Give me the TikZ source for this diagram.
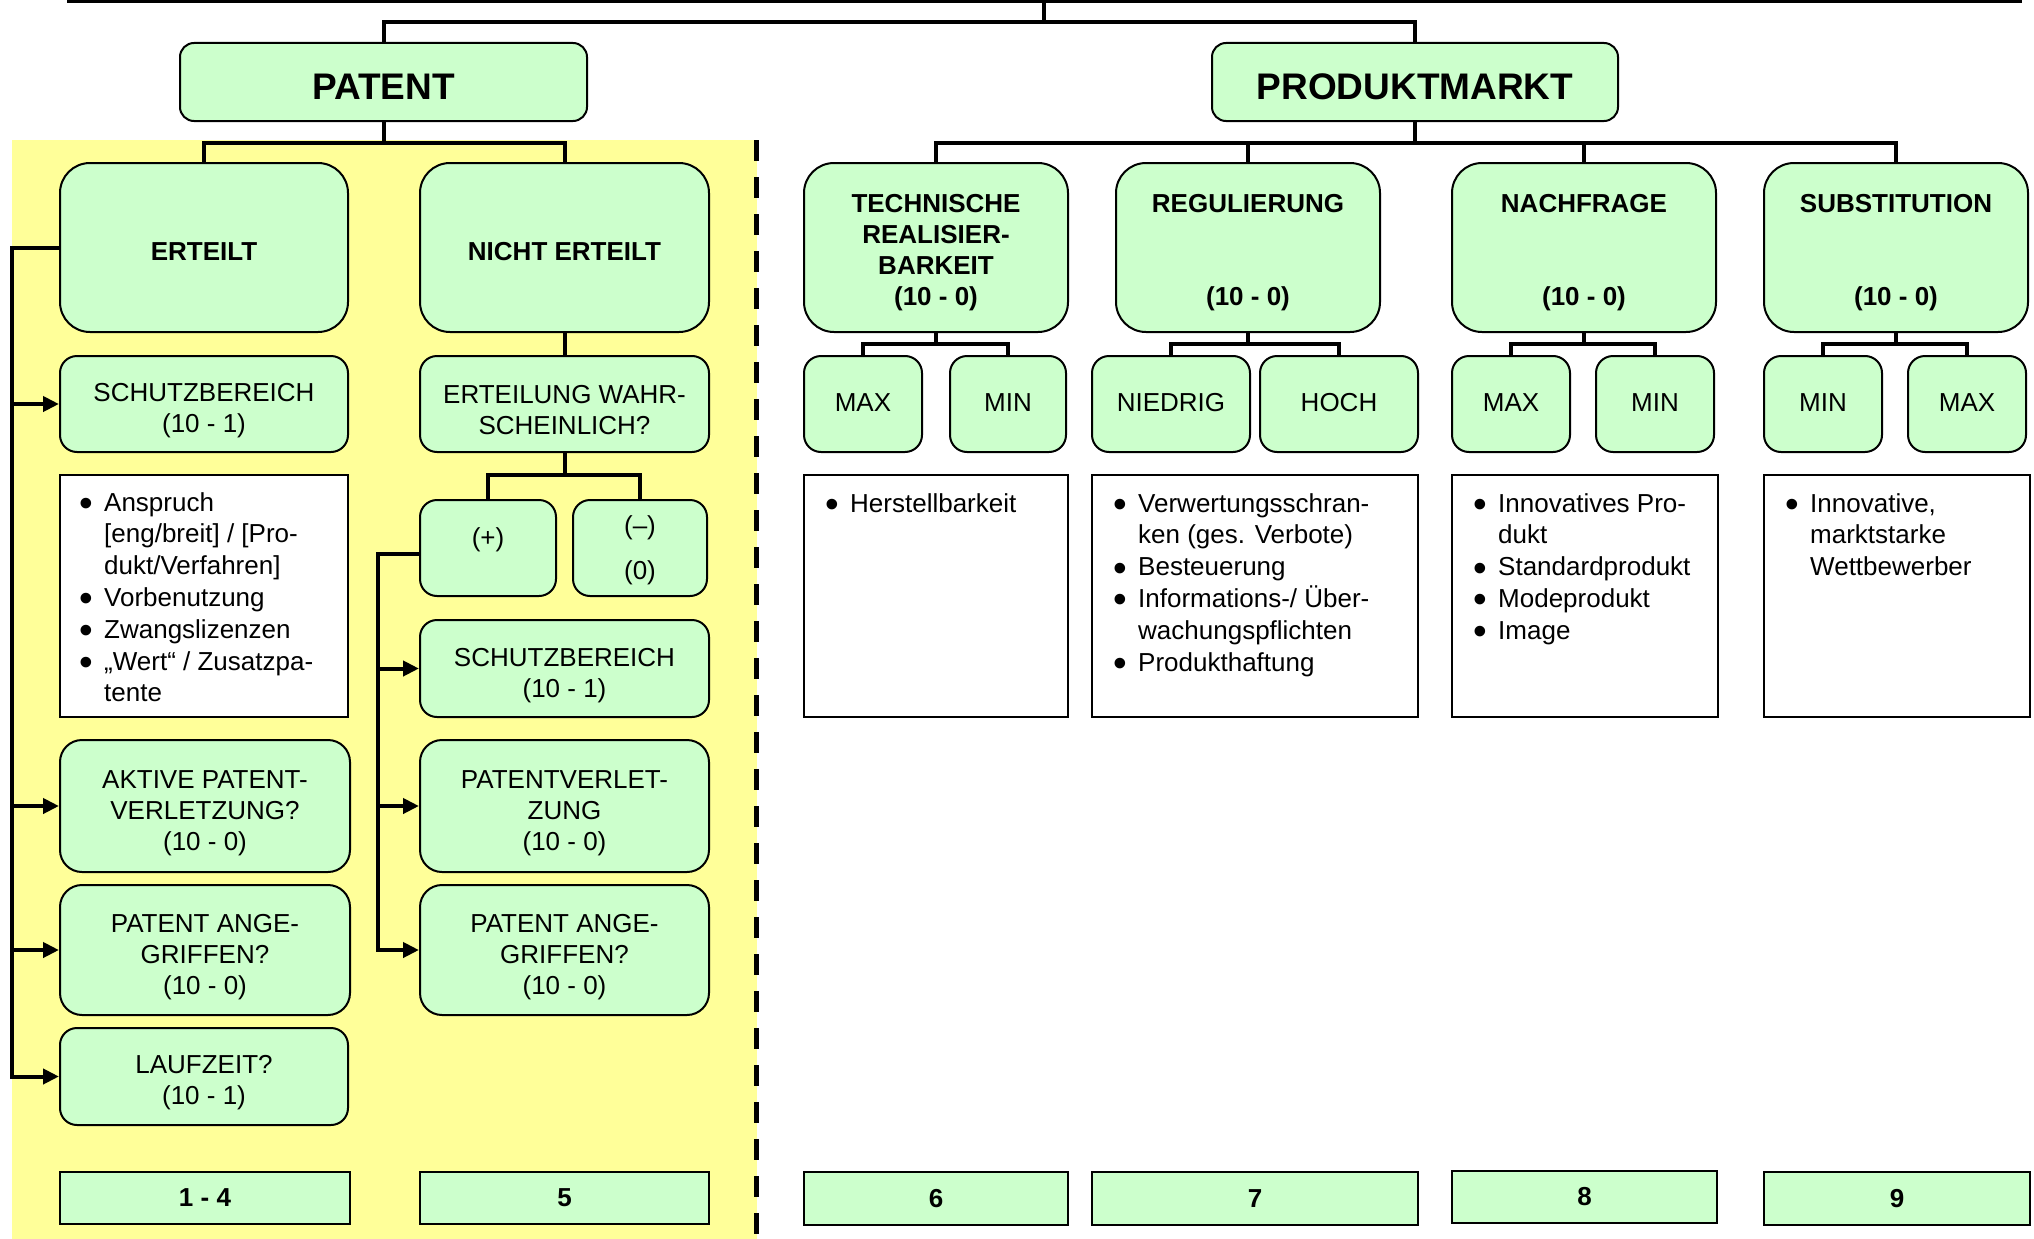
\documentclass[tikz,border=0pt]{standalone}
\usepackage{graphicx}
\usepackage{fontspec}
\setmainfont{Liberation Sans}
\usetikzlibrary{arrows.meta}
\definecolor{boxgreen}{HTML}{CCFFCC}
\definecolor{bgyellow}{HTML}{FFFF99}
\newcommand\txtf{\fontsize{26}{31}\selectfont}
\newcommand\bulf{\fontsize{26}{31.8}\selectfont}
\newcommand\ttlf{\fontsize{37}{44}\selectfont\bfseries}
\newcommand\bul{\llap{\raisebox{-5.5pt}{\scalebox{1.5}{\textbullet}}\hspace{11pt}}}
% #1 name, #2 box style, #3 text style, #4 cx, #5 cy, #6 w, #7 h, #8 text y, #9 text
\newcommand\gbox[9]{%
  \node[gb,#2,minimum width=#6pt,minimum height=#7pt] (#1) at (#4,#5) {};
  \node[gt,#3] (#1t) at (#4,#8) {#9};}
\begin{document}
\begin{tikzpicture}[x=1pt,y=-1pt,
  gb/.style={draw, line width=2pt, fill=boxgreen, inner sep=0pt},
  gt/.style={align=center, inner sep=0pt, font=\txtf},
  hd/.style={font=\txtf\bfseries},
  tt/.style={font=\ttlf},
  rL/.style={rounded corners=30pt},
  rM/.style={rounded corners=22pt},
  rS/.style={rounded corners=17pt},
  rT/.style={rounded corners=14pt},
  wb/.style={draw, line width=2pt, fill=white, inner sep=0pt},
  sz/.style 2 args={minimum width=#1pt, minimum height=#2pt},
  conn/.style={line width=4pt},
  arr/.style={line width=4pt, -{Triangle[length=16pt,width=15pt]}},
  bl/.style={anchor=base west, align=left, inner sep=0pt, font=\bulf},
]
\useasboundingbox (0,0) rectangle (2034,1239);
\fill[white] (0,0) rectangle (2034,1239);
% yellow region and dashed separator
\fill[bgyellow] (12,140) rectangle (757,1239);
\coordinate (dtop) at (756.5,140);
\coordinate (dbot) at (756.5,1239);
\draw[line width=5pt, dash pattern=on 21pt off 16pt] (dtop) -- (dbot);

% ---------- top level ----------
\gbox{patent}{rT}{tt}{383.5}{82}{407}{78}{87}{PATENT}
\gbox{prod}{rT}{tt}{1415}{82}{406}{78}{87}{PRODUKTMARKT}

% ---------- patent side ----------
\gbox{erteilt}{rL}{hd}{204}{247.5}{288}{169}{251.5}{ERTEILT}
\gbox{nicht}{rL}{hd}{564.5}{247.5}{289}{169}{251.5}{NICHT ERTEILT}
\gbox{schutzA}{rS}{}{204}{404}{288}{96}{411}{SCHUTZBEREICH\\(10 - 1)}
\gbox{wahr}{rS}{}{564.5}{404}{289}{96}{410}{ERTEILUNG WAHR-\\SCHEINLICH?}
\node[wb, sz={288}{242}] (listA) at (204,596) {};
\node[bl] (listAt) at (104,701.8) {\bul Anspruch\\{}[eng/breit] / [Pro-\\dukt/Verfahren]\\\bul Vorbenutzung\\\bul Zwangslizenzen\\\bul „Wert“ / Zusatzpa-\\tente};
\gbox{plus}{rS}{}{488}{548}{136}{96}{540}{(+)}
\gbox{minus}{rS}{}{640}{548}{134}{96}{550}{(–)\\[14pt](0)}
\gbox{schutzB}{rS}{}{564.5}{668.5}{289}{97}{676}{SCHUTZBEREICH\\(10 - 1)}
\gbox{aktiv}{rM}{}{205}{806}{290}{132}{813}{AKTIVE PATENT-\\VERLETZUNG?\\(10 - 0)}
\gbox{verl}{rM}{}{564.5}{806}{289}{132}{813}{PATENTVERLET-\\ZUNG\\(10 - 0)}
\gbox{angrA}{rM}{}{205}{950}{290}{130}{957}{PATENT ANGE-\\GRIFFEN?\\(10 - 0)}
\gbox{angrB}{rM}{}{564.5}{950}{289}{130}{957}{PATENT ANGE-\\GRIFFEN?\\(10 - 0)}
\gbox{lauf}{rS}{}{204}{1076.5}{288}{97}{1083}{LAUFZEIT?\\(10 - 1)}
\gbox{numA}{}{hd}{205}{1198}{290}{52}{1198}{1 - 4}
\gbox{numB}{}{hd}{564.5}{1198}{289}{52}{1198}{5}

% ---------- market side ----------
\gbox{tech}{rL}{hd}{936}{247.5}{264}{169}{252.5}{TECHNISCHE\\REALISIER-\\BARKEIT\\(10 - 0)}
\gbox{reg}{rL}{hd}{1248}{247.5}{264}{169}{252.5}{REGULIERUNG\\[62pt](10 - 0)}
\gbox{nach}{rL}{hd}{1584}{247.5}{264}{169}{252.5}{NACHFRAGE\\[62pt](10 - 0)}
\gbox{subst}{rL}{hd}{1896}{247.5}{264}{169}{252.5}{SUBSTITUTION\\[62pt](10 - 0)}

\gbox{tmax}{rS}{}{863}{404}{118}{96}{403}{MAX}
\gbox{tmin}{rS}{}{1008}{404}{116}{96}{403}{MIN}
\gbox{rnied}{rS}{}{1171}{404}{158}{96}{403}{NIEDRIG}
\gbox{rhoch}{rS}{}{1339}{404}{158}{96}{403}{HOCH}
\gbox{nmax}{rS}{}{1511}{404}{118}{96}{403}{MAX}
\gbox{nmin}{rS}{}{1655}{404}{118}{96}{403}{MIN}
\gbox{smin}{rS}{}{1823}{404}{118}{96}{403}{MIN}
\gbox{smax}{rS}{}{1967}{404}{118}{96}{403}{MAX}

\node[wb, sz={264}{242}] (listB) at (936,596) {};
\node[wb, sz={326}{242}] (listC) at (1255,596) {};
\node[wb, sz={266}{242}] (listD) at (1585,596) {};
\node[wb, sz={266}{242}] (listE) at (1897,596) {};
\node[bl] (listBt) at (850,512) {\bul Herstellbarkeit};
\node[bl] (listCt) at (1138,671) {\bul Verwertungsschran-\\ken (ges. Verbote)\\\bul Besteuerung\\\bul Informations-/ Über-\\wachungspflichten\\\bul Produkthaftung};
\node[bl] (listDt) at (1498,639.2) {\bul Innovatives Pro-\\dukt\\\bul Standardprodukt\\\bul Modeprodukt\\\bul Image};
\node[bl] (listEt) at (1810,575.6) {\bul Innovative,\\marktstarke\\Wettbewerber};

\gbox{numC}{}{hd}{936}{1198.5}{264}{53}{1198.5}{6}
\gbox{numD}{}{hd}{1255}{1198.5}{326}{53}{1198.5}{7}
\gbox{numE}{}{hd}{1584.5}{1197}{265}{52}{1197}{8}
\gbox{numF}{}{hd}{1897}{1198.5}{266}{53}{1198.5}{9}

% ---------- connectors ----------
\coordinate (tl) at (67,1);
\coordinate (tr) at (2022,1);
\coordinate (tm) at (1044,1);
\coordinate (tj) at (1044,22);
\draw[conn] (tl) -- (tr);
\draw[conn] (tm) -- (tj);
\draw[conn] (patent.north) |- (tj) -| (prod.north);

\draw[conn] (patent.south) -- ++(0,21) coordinate (pj);
\draw[conn] (erteilt.north) |- (pj) -| (nicht.north);
\draw[conn] (nicht.south) -- (wahr.north);
\draw[conn] (wahr.south) -- ++(0,22) coordinate (wj);
\draw[conn] (plus.north) |- (wj) -| (minus.north);

\draw[conn] (prod.south) -- ++(0,21) coordinate (qj);
\draw[conn] (tech.north) |- (qj) -| (subst.north);
\draw[conn] (reg.north) -- (reg.north |- qj);
\draw[conn] (nach.north) -- (nach.north |- qj);

\draw[conn] (tech.south) -- ++(0,11) coordinate (tj2);
\draw[conn] (tmax.north) |- (tj2) -| (tmin.north);
\draw[conn] (reg.south) -- ++(0,11) coordinate (rj2);
\draw[conn] (rnied.north) |- (rj2) -| (rhoch.north);
\draw[conn] (nach.south) -- ++(0,11) coordinate (nj2);
\draw[conn] (nmax.north) |- (nj2) -| (nmin.north);
\draw[conn] (subst.south) -- ++(0,11) coordinate (sj2);
\draw[conn] (smin.north) |- (sj2) -| (smax.north);

\coordinate (spL) at (12,0);
\coordinate (spR) at (378,0);
\draw[arr] (erteilt.west) -| (lauf.west -| spL) -- (lauf.west);
\draw[arr] (schutzA.west -| spL) -- (schutzA.west);
\draw[arr] (aktiv.west -| spL) -- (aktiv.west);
\draw[arr] (angrA.west -| spL) -- (angrA.west);
\draw[arr] ([yshift=-6pt]plus.west) -| (angrB.west -| spR) -- (angrB.west);
\draw[arr] (schutzB.west -| spR) -- (schutzB.west);
\draw[arr] (verl.west -| spR) -- (verl.west);
\end{tikzpicture}
\end{document}
